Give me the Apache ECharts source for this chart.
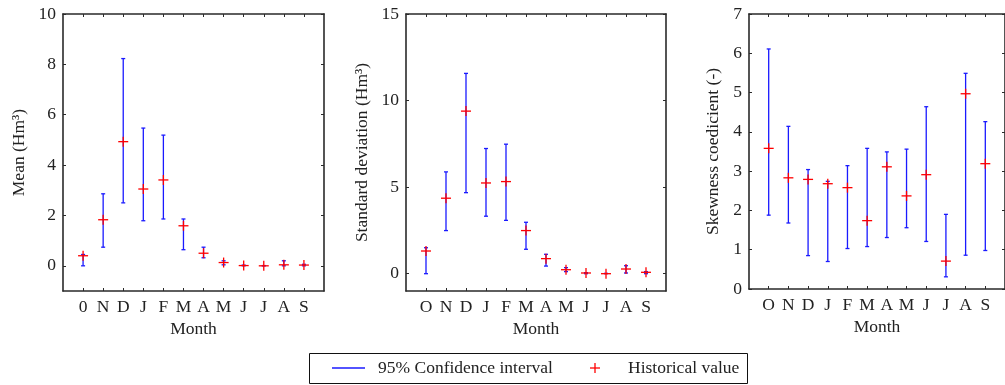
<!DOCTYPE html>
<html>
<head>
<meta charset="utf-8">
<script src="https://cdn.jsdelivr.net/npm/echarts@6/dist/echarts.min.js"></script>
<style>html,body{margin:0;padding:0;background:#fff}#c{width:1005px;height:385px}</style>
</head>
<body>
<div id="c"></div>
<script>
// ---- data ----
const monthsMean = ['0','N','D','J','F','M','A','M','J','J','A','S'];
const months = ['O','N','D','J','F','M','A','M','J','J','A','S'];

const meanHist = [0.40, 1.83, 4.93, 3.05, 3.41, 1.59, 0.50, 0.13, 0.01, 0.00, 0.04, 0.03];
const meanLow  = [0.00, 0.74, 2.50, 1.79, 1.86, 0.64, 0.32, 0.04, 0.00, 0.00, 0.00, 0.00];
const meanHigh = [0.45, 2.86, 8.23, 5.47, 5.19, 1.86, 0.74, 0.20, 0.03, 0.01, 0.20, 0.06];

const sdHist = [1.31, 4.36, 9.39, 5.24, 5.32, 2.49, 0.87, 0.23, 0.04, 0.00, 0.27, 0.08];
const sdLow  = [0.00, 2.49, 4.68, 3.32, 3.08, 1.41, 0.44, 0.12, 0.00, 0.00, 0.04, 0.00];
const sdHigh = [1.50, 5.88, 11.57, 7.23, 7.48, 2.97, 1.12, 0.35, 0.06, 0.02, 0.46, 0.12];

const skewHist = [3.58, 2.83, 2.79, 2.68, 2.58, 1.74, 3.11, 2.37, 2.91, 0.71, 4.97, 3.19];
const skewLow  = [1.88, 1.68, 0.85, 0.70, 1.03, 1.08, 1.31, 1.56, 1.21, 0.31, 0.86, 0.98];
const skewHigh = [6.11, 4.14, 3.04, 2.74, 3.14, 3.58, 3.49, 3.56, 4.64, 1.90, 5.49, 4.26];

const yTicks1 = [0, 2, 4, 6, 8, 10];
const yTicks2 = [0, 5, 10, 15];
const yTicks3 = [0, 1, 2, 3, 4, 5, 6, 7];
const yName1 = 'Mean (Hm³)';
const yName2 = 'Standard deviation (Hm³)';
const yName3 = 'Skewness coedicient (-)';
const xName = 'Month';
const legendNames = ['95% Confidence interval', 'Historical value'];

// ---- chart ----
const FONT = 'Liberation Serif';
const FS = 17.5;
const AX = '#2a2a2a';
const positions = months.map((m, i) => i + 1);

const chart = echarts.init(document.getElementById('c'), null, {renderer: 'canvas'});

const grids = [
  {left: 63, top: 14, width: 261, height: 277},
  {left: 406, top: 14, width: 260, height: 277},
  {left: 749, top: 14, width: 261, height: 275}
];
const yCfg = [
  {min: -1, max: 10, ticks: yTicks1, name: yName1, gap: 35},
  {min: -1, max: 15, ticks: yTicks2, name: yName2, gap: 35},
  {min: 0, max: 7, ticks: yTicks3, name: yName3, gap: 27}
];
const cats = [monthsMean, months, months];

const xAxis = [], yAxis = [], series = [];
grids.forEach((g, gi) => {
  const labels = cats[gi];
  xAxis.push({
    type: 'value', gridIndex: gi, min: 0, max: 13, position: 'bottom',
    name: xName, nameLocation: 'middle', nameGap: 29,
    nameTextStyle: {fontFamily: FONT, fontSize: FS, color: '#222'},
    axisLine: {show: true, onZero: false, lineStyle: {color: AX, width: 1.6}},
    axisTick: {show: true, inside: true, length: 3, customValues: positions, lineStyle: {color: AX}},
    axisLabel: {customValues: positions, margin: 7, fontFamily: FONT, fontSize: FS, color: '#222',
      formatter: v => labels[Math.round(v) - 1] || ''},
    splitLine: {show: false}
  });
  xAxis.push({
    type: 'value', gridIndex: gi, min: 0, max: 13, position: 'top',
    axisLine: {show: true, onZero: false, lineStyle: {color: AX, width: 1.6}},
    axisTick: {show: true, inside: true, length: 3, customValues: positions, lineStyle: {color: AX}},
    axisLabel: {show: false}, splitLine: {show: false}
  });
  const yc = yCfg[gi];
  yAxis.push({
    type: 'value', gridIndex: gi, min: yc.min, max: yc.max, position: 'left',
    name: yc.name, nameLocation: 'middle', nameGap: yc.gap,
    nameTextStyle: {fontFamily: FONT, fontSize: FS, color: '#222'},
    axisLine: {show: true, onZero: false, lineStyle: {color: AX, width: 1.6}},
    axisTick: {show: true, inside: true, length: 3, customValues: yc.ticks, lineStyle: {color: AX}},
    axisLabel: {customValues: yc.ticks, margin: 7, fontFamily: FONT, fontSize: FS, color: '#222'},
    splitLine: {show: false}
  });
  yAxis.push({
    type: 'value', gridIndex: gi, min: yc.min, max: yc.max, position: 'right',
    axisLine: {show: true, onZero: false, lineStyle: {color: AX, width: 1.6}},
    axisTick: {show: true, inside: true, length: 3, customValues: yc.ticks, lineStyle: {color: AX}},
    axisLabel: {show: false}, splitLine: {show: false}
  });
});

function errData(low, high) { return positions.map((p, i) => [p, low[i], high[i]]); }
function ptData(v) { return positions.map((p, i) => [p, v[i]]); }

function renderErr(params, api) {
  const x = api.value(0);
  const top = api.coord([x, api.value(2)]);
  const bot = api.coord([x, api.value(1)]);
  const cw = 2;
  const st = {stroke: '#1a1aff', lineWidth: 1.3};
  return {type: 'group', children: [
    {type: 'line', shape: {x1: top[0], y1: top[1], x2: bot[0], y2: bot[1]}, style: st},
    {type: 'line', shape: {x1: top[0] - cw, y1: top[1], x2: top[0] + cw, y2: top[1]}, style: st},
    {type: 'line', shape: {x1: bot[0] - cw, y1: bot[1], x2: bot[0] + cw, y2: bot[1]}, style: st}
  ]};
}
function renderPlus(params, api) {
  const c = api.coord([api.value(0), api.value(1)]);
  const h = 5;
  const st = {stroke: '#ff0000', lineWidth: 1.3};
  return {type: 'group', children: [
    {type: 'line', shape: {x1: c[0] - h, y1: c[1], x2: c[0] + h, y2: c[1]}, style: st},
    {type: 'line', shape: {x1: c[0], y1: c[1] - h, x2: c[0], y2: c[1] + h}, style: st}
  ]};
}

const errSets = [[meanLow, meanHigh], [sdLow, sdHigh], [skewLow, skewHigh]];
const histSets = [meanHist, sdHist, skewHist];
for (let gi = 0; gi < 3; gi++) {
  series.push({
    name: legendNames[0], type: 'custom', xAxisIndex: gi * 2, yAxisIndex: gi * 2,
    renderItem: renderErr, data: errData(errSets[gi][0], errSets[gi][1]),
    encode: {x: 0, y: [1, 2]}, clip: false, silent: true
  });
  series.push({
    name: legendNames[1], type: 'custom', xAxisIndex: gi * 2, yAxisIndex: gi * 2,
    renderItem: renderPlus, data: ptData(histSets[gi]),
    encode: {x: 0, y: 1}, clip: false, silent: true
  });
}

// legend drawn as graphic
const LY = 368;
const graphic = [
  {type: 'rect', left: 309, top: 353, shape: {x: 0, y: 0, width: 438, height: 30},
   style: {fill: '#fff', stroke: '#111', lineWidth: 1}, z: 10},
  {type: 'line', shape: {x1: 332, y1: LY, x2: 365, y2: LY}, style: {stroke: '#1a1aff', lineWidth: 1.3}, z: 11},
  {type: 'text', x: 378, y: LY, style: {text: legendNames[0], font: FS + 'px ' + FONT, fill: '#222', textVerticalAlign: 'middle'}, z: 11},
  {type: 'line', shape: {x1: 590, y1: LY, x2: 600, y2: LY}, style: {stroke: '#ff0000', lineWidth: 1.3}, z: 11},
  {type: 'line', shape: {x1: 595, y1: LY - 5, x2: 595, y2: LY + 5}, style: {stroke: '#ff0000', lineWidth: 1.3}, z: 11},
  {type: 'text', x: 628, y: LY, style: {text: legendNames[1], font: FS + 'px ' + FONT, fill: '#222', textVerticalAlign: 'middle'}, z: 11}
];

chart.setOption({
  animation: false,
  backgroundColor: '#fff',
  textStyle: {fontFamily: FONT},
  grid: grids,
  xAxis: xAxis,
  yAxis: yAxis,
  series: series,
  graphic: graphic
});
</script>
</body>
</html>
